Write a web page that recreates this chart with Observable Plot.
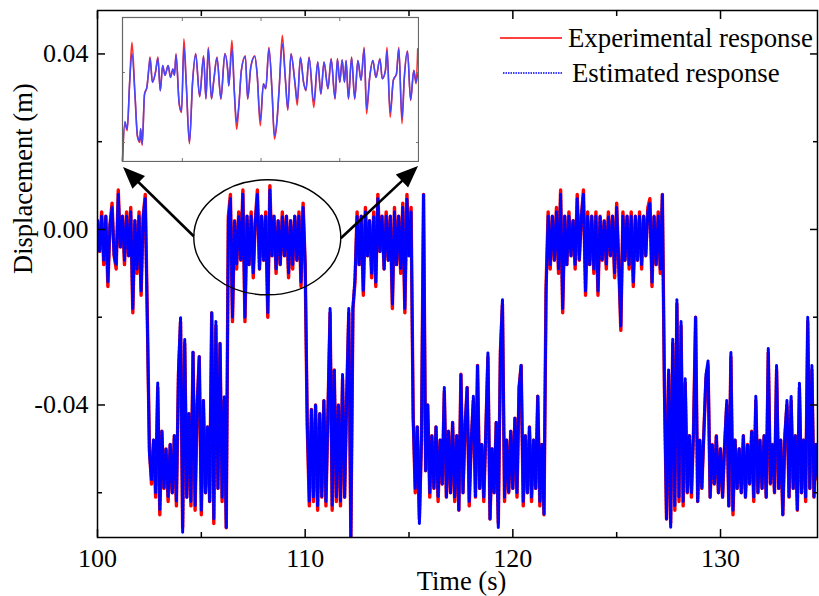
<!DOCTYPE html>
<html><head><meta charset="utf-8">
<script src="https://cdn.jsdelivr.net/npm/d3@7"></script>
<script src="https://cdn.jsdelivr.net/npm/@observablehq/plot@0.6"></script>
<style>
body{margin:0;background:#fff;}
#wrap{position:relative;width:819px;height:596px;overflow:hidden;}
#wrap svg{display:block;}
#wrap text{font-family:"Liberation Serif","Times New Roman",Times,serif;}
</style></head><body><div id="wrap"></div>
<script>
// sample grid of the recording (s)
const t0 = 100, dt = 0.1;
// displacement in mm, every 0.1 s
const experimental = [
 2,-5,4,-8,3,-13,1,6,-6,-9,
 9,-4,3,-8,4,-6,5,-19,2,-10,
 4,-15,3,8,-20,-50,-58,-48,-61,-36,
 -65,-46,-59,-50,-62,-49,-60,-47,-63,-33,
 -21,-68,-26,-61,-42,-63,-28,-64,-40,-29,
 -65,-39,-60,-45,-62,-19,-67,-22,-59,-26,
 -62,-39,-68,3,8,-21,2,-9,4,-7,
 9,-21,3,-8,4,-11,2,9,-9,3,
 -7,4,-20,10,-6,3,-10,2,-8,4,
 -6,3,-11,2,-9,3,-7,4,-13,6,
 -8,-45,-63,-41,-62,-40,-64,-42,-61,-39,
 -63,-41,-19,-64,-32,-62,-40,-63,-34,-61,
 -38,-19,-70,-18,-12,4,-8,3,-15,5,
 -6,2,-11,4,-13,8,-5,3,-9,4,
 -7,3,-18,5,-8,3,-10,6,-19,8,
 -6,5,-42,-60,-45,-66,-48,8,-55,-40,
 -61,-47,-59,-45,-62,-48,-58,-37,-61,-46,
 -60,-44,-62,-47,-64,-33,-60,-45,-36,-63,
 -48,-39,-61,-31,-59,-49,-62,-46,-29,-66,
 -50,-60,-44,-67,-28,-17,-62,-48,-60,-46,
 -59,-43,-61,-36,-31,-63,-47,-60,-45,-62,
 -48,-59,-38,-63,-49,-65,-13,4,-9,3,
 -7,5,-10,9,-19,3,-8,4,-6,2,
 -9,8,-7,3,9,-15,4,-8,3,-10,
 4,-15,3,-7,2,-9,4,-6,3,-11,
 6,-8,-23,4,-7,3,-9,4,-13,3,
 -7,4,-9,3,-6,5,7,-13,3,-8,
 4,-10,8,-36,-66,-33,-67,-26,-64,-17,
 -62,-22,-63,-35,-60,-47,-61,-46,-20,-62,
 -48,-59,-46,-34,-31,-61,-49,-58,-47,-60,
 -50,-61,-49,-40,-63,-29,-65,-48,-59,-50,
 -60,-47,-61,-49,-58,-46,-62,-39,-60,-48,
 -59,-47,-61,-28,-58,-49,-60,-32,-59,-48,
 -65,-47,-40,-61,-39,-59,-47,-64,-36,-60,
 -48,-62,-21,-59,-32,-61,-49,-57
];
const estimated = [
 2,-5,3,-7,3,-12,1,5,-6,-8,
 8,-4,3,-7,3,-6,4,-18,2,-9,
 3,-14,3,7,-21,-51,-57,-48,-60,-35,
 -64,-46,-59,-50,-61,-49,-60,-47,-62,-32,
 -20,-69,-25,-61,-42,-62,-28,-63,-40,-29,
 -64,-39,-60,-45,-62,-19,-66,-21,-59,-26,
 -61,-38,-68,2,7,-20,2,-8,3,-7,
 8,-20,3,-8,3,-10,2,8,-9,3,
 -7,3,-19,9,-6,3,-9,2,-8,3,
 -6,3,-10,2,-8,3,-7,3,-12,5,
 -8,-44,-62,-41,-61,-40,-63,-42,-61,-39,
 -62,-41,-18,-63,-32,-61,-40,-62,-33,-61,
 -38,-18,-71,-18,-11,3,-8,3,-14,4,
 -6,2,-10,3,-12,7,-5,3,-9,3,
 -7,3,-17,4,-8,3,-9,5,-18,7,
 -6,4,-43,-59,-45,-67,-48,8,-55,-40,
 -60,-47,-59,-45,-61,-48,-58,-36,-61,-46,
 -60,-44,-61,-47,-64,-33,-60,-45,-36,-62,
 -48,-38,-61,-31,-59,-49,-61,-46,-28,-66,
 -50,-60,-44,-68,-28,-16,-61,-48,-60,-46,
 -59,-43,-60,-36,-31,-62,-47,-60,-45,-61,
 -48,-59,-38,-62,-49,-65,-14,3,-8,3,
 -7,4,-9,8,-18,3,-8,3,-6,2,
 -8,7,-7,3,8,-14,3,-8,3,-9,
 3,-14,3,-7,2,-8,3,-6,3,-10,
 5,-8,-22,3,-7,3,-8,3,-12,3,
 -7,3,-8,3,-6,4,6,-12,3,-8,
 3,-9,8,-37,-66,-32,-68,-25,-63,-16,
 -61,-21,-62,-34,-60,-47,-60,-46,-20,-62,
 -48,-59,-46,-33,-30,-61,-49,-58,-47,-60,
 -50,-61,-49,-39,-63,-28,-64,-48,-59,-50,
 -60,-47,-61,-49,-58,-46,-61,-38,-60,-48,
 -59,-47,-61,-27,-58,-49,-60,-31,-59,-48,
 -65,-47,-39,-61,-38,-59,-47,-64,-35,-60,
 -48,-61,-20,-59,-31,-61,-49,-57
];
// inset (zoomed view 106.2 - 110 s), values in mm
const insetTime = [106.24,106.27,106.30,106.33,106.36,106.40,106.43,106.46,106.47,106.49,
 106.52,106.55,106.58,106.59,106.62,106.66,106.69,106.72,106.75,106.78,
 106.82,106.85,106.88,106.90,106.92,106.96,106.99,107.02,107.05,107.09,
 107.13,107.17,107.22,107.27,107.30,107.33,107.37,107.40,107.44,107.49,
 107.54,107.58,107.59,107.63,107.66,107.69,107.72,107.75,107.80,107.83,
 107.87,107.92,107.95,107.99,108.03,108.06,108.10,108.14,108.17,108.20,
 108.23,108.27,108.31,108.34,108.38,108.43,108.46,108.50,108.54,108.57,
 108.61,108.67,108.72,108.76,108.80,108.85,108.89,108.94,108.97,109.00,
 109.03,109.06,109.08,109.11,109.15,109.19,109.23,109.27,109.31,109.34,
 109.38,109.42,109.46,109.51,109.54,109.58,109.60,109.64,109.68,109.72,
 109.75,109.79,109.82,109.86,109.90,109.94,109.97,109.99];
const insetExperimental = [-12.6,-7.3,-8.3,-1.6,4.3,-3.5,-9.2,-10.0,-8.1,-10.4,
 -3.1,-2.1,1.2,2.2,-1.4,0.1,2.2,-2.6,1.0,-0.4,
 1.0,-0.7,0.5,-0.4,2.7,-4.5,-5.7,4.8,-1.6,-10.2,
 -1.4,2.7,-3.5,2.4,-3.8,3.6,-3.8,-1.1,2.2,-3.8,
 2.7,-0.2,-1.9,4.6,-2.6,-8.1,-4.5,0.3,2.4,-3.8,
 0.8,2.4,-0.2,-7.6,-1.6,-2.3,3.6,-2.8,-9.5,-7.3,
 -2.3,5.3,-1.1,-5.4,2.7,-1.4,-4.7,2.2,-1.4,-2.6,
 2.2,-5.0,1.5,-3.1,1.5,-2.3,2.0,-3.8,2.0,-1.4,
 1.8,-1.4,1.7,-3.8,2.2,-3.8,1.7,-1.1,3.6,-5.9,
 -0.7,1.7,-0.7,2.0,-0.9,0.3,3.6,-6.4,-1.1,-0.2,
 3.6,-7.3,-0.7,3.1,-4.0,0.3,-1.6,3.4];
const insetEstimated = [-12.6,-7.0,-8.1,-1.6,2.7,-3.5,-9.0,-9.8,-8.0,-10.2,
 -3.1,-2.1,1.2,2.0,-1.4,0.1,2.0,-2.6,1.0,-0.4,
 1.0,-0.7,0.5,-0.4,2.5,-4.4,-5.5,3.6,-1.6,-10.0,
 -1.4,2.6,-3.4,2.3,-3.7,3.4,-3.7,-1.1,2.1,-3.7,
 2.6,-0.2,-1.9,3.4,-2.6,-7.1,-4.4,0.3,2.3,-3.7,
 0.8,2.3,-0.2,-6.9,-1.6,-2.3,3.4,-2.8,-9.0,-7.1,
 -2.3,4.1,-1.1,-5.2,2.6,-1.4,-4.0,2.1,-1.4,-2.5,
 2.1,-4.2,1.5,-3.0,1.5,-2.3,1.9,-3.7,1.9,-1.4,
 1.8,-1.4,1.7,-3.7,2.1,-3.7,1.7,-1.1,3.4,-5.2,
 -0.7,1.7,-0.7,1.9,-0.9,0.3,3.1,-5.7,-1.1,-0.2,
 3.4,-6.6,-0.7,3.0,-3.9,0.3,-1.4,-0.2];
const xTicksMajor = [100,110,120,130];
const xTicksMinor = [105,115,125];
const yTicksMajor = [-0.04,0,0.04];
const yTicksMinor = [-0.06,-0.02,0.02];
const insetXTicks = [107,108,109];
const insetYTicks = [-10,0];
const seriesNames = ["Experimental response","Estimated response"];
const zoomCenter = [108.2, -0.0019];   // ellipse around the zoomed region (data units)
const zoomRadius = [3.54, 0.0131];

const rows = experimental.map((v,i)=>({t: +(t0+i*dt).toFixed(1), exp: v/1000, est: estimated[i]/1000}));
const insetRows = insetTime.map((t,i)=>({t, exp: insetExperimental[i], est: insetEstimated[i]}));

const font = '"Liberation Serif","Times New Roman",Times,serif';
const RED = "#ff0000", BLUE = "#0000ff";
const tickOnly = {label: null, strokeWidth: 1.5, tickFormat: () => ""};

const main = Plot.plot({
  width: 819, height: 596,
  marginLeft: 97, marginRight: 2, marginTop: 10, marginBottom: 59,
  style: {fontFamily: font, fontSize: "26px", color: "#000", background: "#fff"},
  x: {domain: [100, 134.67]},
  y: {domain: [-0.0702, 0.0499]},
  marks: [
    Plot.line(rows, {x: "t", y: "exp", stroke: RED, strokeWidth: 3.4, clip: true}),
    Plot.line(rows, {x: "t", y: "est", stroke: BLUE, strokeWidth: 3, strokeDasharray: "2.5,1.5", clip: true}),
    Plot.frame({stroke: "#000", strokeWidth: 1.5}),
    Plot.axisX(xTicksMajor, {anchor: "bottom", tickSize: -8, ...tickOnly}),
    Plot.axisX(xTicksMinor, {anchor: "bottom", tickSize: -5, ...tickOnly}),
    Plot.axisX(xTicksMajor, {anchor: "top", tickSize: -8, ...tickOnly}),
    Plot.axisX(xTicksMinor, {anchor: "top", tickSize: -5, ...tickOnly}),
    Plot.axisY(yTicksMajor, {anchor: "left", tickSize: -8, ...tickOnly}),
    Plot.axisY(yTicksMinor, {anchor: "left", tickSize: -5, ...tickOnly}),
    Plot.axisY(yTicksMajor, {anchor: "right", tickSize: -8, ...tickOnly}),
    Plot.axisY(yTicksMinor, {anchor: "right", tickSize: -5, ...tickOnly}),
    Plot.text(xTicksMajor, {x: d => d, text: d => String(d), frameAnchor: "bottom", lineAnchor: "top", dy: 11, fontFamily: font, fontSize: 26}),
    Plot.text(yTicksMajor, {y: d => d, text: d => d.toFixed(2), frameAnchor: "left", textAnchor: "end", lineAnchor: "middle", dx: -9, fontFamily: font, fontSize: 26}),
    Plot.text(["Time (s)"], {frameAnchor: "bottom", lineAnchor: "bottom", dy: 52, dx: 4, fontFamily: font, fontSize: 26.5}),
    Plot.text(["Displacement (m)"], {frameAnchor: "left", lineAnchor: "middle", rotate: -90, dx: -74, fontFamily: font, fontSize: 26.5})
  ]
});
document.getElementById("wrap").appendChild(main);

// annotations: ellipse, arrows and legend
const svg = d3.select(main);
const sx = main.scale("x"), sy = main.scale("y");
const cx = sx.apply(zoomCenter[0]), cy = sy.apply(zoomCenter[1]);
const rx = sx.apply(zoomCenter[0] + zoomRadius[0]) - cx;
const ry = cy - sy.apply(zoomCenter[1] + zoomRadius[1]);
const g = svg.append("g");
g.append("ellipse").attr("cx", cx).attr("cy", cy).attr("rx", rx).attr("ry", ry)
  .attr("fill", "none").attr("stroke", "#000").attr("stroke-width", 1.4);

const insetBox = {left: 122, top: 17, width: 296, height: 144};
function arrow(x1, y1, x2, y2) {
  const dx = x2 - x1, dy = y2 - y1, L = Math.hypot(dx, dy), ux = dx / L, uy = dy / L;
  const hl = 22, hw = 9;
  const bx = x2 - ux * hl, by = y2 - uy * hl;
  g.append("line").attr("x1", x1).attr("y1", y1).attr("x2", bx + ux * 2).attr("y2", by + uy * 2)
    .attr("stroke", "#000").attr("stroke-width", 2.6);
  g.append("path").attr("d", `M${x2},${y2}L${bx - uy * hw},${by + ux * hw}L${bx + uy * hw},${by - ux * hw}Z`).attr("fill", "#000");
}
arrow(cx - rx, cy - 1, insetBox.left + 1, insetBox.top + insetBox.height + 6);
arrow(cx + rx, cy + 1, insetBox.left + insetBox.width, insetBox.top + insetBox.height + 5);

const lg = svg.append("g").attr("font-family", font).attr("font-size", 26.8).attr("fill", "#000").attr("text-anchor", "start");
lg.append("line").attr("x1", 500).attr("x2", 562).attr("y1", 38).attr("y2", 38).attr("stroke", RED).attr("stroke-width", 1.6);
lg.append("text").attr("x", 568).attr("y", 47).attr("text-anchor", "start").text(seriesNames[0]);
lg.append("line").attr("x1", 503).attr("x2", 563).attr("y1", 73).attr("y2", 73).attr("stroke", BLUE).attr("stroke-width", 1.6).attr("stroke-dasharray", "1.5,1");
lg.append("text").attr("x", 572).attr("y", 82).attr("text-anchor", "start").text(seriesNames[1]);

// inset chart
const inset = Plot.plot({
  width: insetBox.width + 2, height: insetBox.height + 2, margin: 1,
  style: {background: "#fff", fontFamily: font},
  x: {domain: [106.24, 110.0]},
  y: {domain: [-12.71, 7.86]},
  marks: [
    Plot.line(insetRows, {x: "t", y: "exp", stroke: "#ff2a2a", strokeWidth: 1.6, curve: "monotone-x"}),
    Plot.line(insetRows, {x: "t", y: "est", stroke: "#4646ff", strokeWidth: 1.5, curve: "monotone-x"}),
    Plot.axisX(insetXTicks, {anchor: "bottom", tickSize: -3, stroke: "#777", label: null, tickFormat: () => ""}),
    Plot.axisX(insetXTicks, {anchor: "top", tickSize: -3, stroke: "#777", label: null, tickFormat: () => ""}),
    Plot.axisY(insetYTicks, {anchor: "left", tickSize: -3, stroke: "#777", label: null, tickFormat: () => ""}),
    Plot.axisY(insetYTicks, {anchor: "right", tickSize: -3, stroke: "#777", label: null, tickFormat: () => ""}),
    Plot.frame({stroke: "#666", strokeWidth: 1.2})
  ]
});
inset.style.position = "absolute";
inset.style.left = (insetBox.left - 1) + "px";
inset.style.top = (insetBox.top - 1) + "px";
document.getElementById("wrap").appendChild(inset);
</script></body></html>
